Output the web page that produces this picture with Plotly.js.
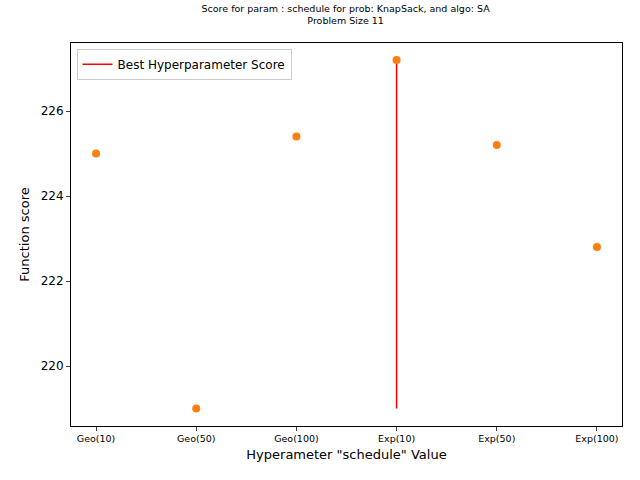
<html>
<head>
<script src="https://cdn.plot.ly/plotly-3.0.1.min.js"></script>
<style>body{margin:0}</style>
</head>
<body>
<div id="chart" style="width:640px;height:480px"></div>
<script>
const categories = ["Geo(10)", "Geo(50)", "Geo(100)", "Exp(10)", "Exp(50)", "Exp(100)"];
const scores = [225.0, 219.0, 225.4, 227.2, 225.2, 222.8];
const bestX = ["Exp(10)", "Exp(10)"];
const bestY = [219.0, 227.2];

const traces = [
    {
        type: "scatter",
        mode: "lines",
        x: bestX,
        y: bestY,
        line: {color: "red", width: 1.5},
        name: "Best Hyperparameter Score",
    },
    {
        type: "scatter",
        mode: "markers",
        x: categories,
        y: scores,
        marker: {color: "#ff7f0e", size: 8},
        showlegend: false,
    },
];

Plotly.newPlot("chart", traces, {
    width: 640,
    height: 480,
    margin: {l: 71, r: 18, t: 43, b: 54},
    font: {family: "DejaVu Sans", color: "black"},
    title: {
        text: "Score for param : schedule for prob: KnapSack, and algo: SA<br>Problem Size 11",
        font: {size: 9.5},
        x: 0.54, y: 0.975, yanchor: "top",
    },
    showlegend: true,
    legend: {x: 0.01, y: 0.985, bordercolor: "#ccc", borderwidth: 1, font: {size: 12}, tracegroupgap: 0},
    xaxis: {
        type: "category",
        categoryorder: "array",
        categoryarray: categories,
        range: [-0.25, 5.25],
        showgrid: false, zeroline: false,
        showline: true, mirror: true, linecolor: "black",
        ticks: "outside", ticklen: 4,
        tickfont: {size: 9.5},
        title: {text: 'Hyperameter "schedule" Value', font: {size: 13}, standoff: 6},
    },
    yaxis: {
        range: [218.59, 227.6],
        tickvals: [220, 222, 224, 226],
        showgrid: false, zeroline: false,
        showline: true, mirror: true, linecolor: "black",
        ticks: "outside", ticklen: 4,
        tickfont: {size: 12},
        title: {text: "Function score", font: {size: 13}, standoff: 8},
    },
    plot_bgcolor: "white",
    paper_bgcolor: "white",
}, {displayModeBar: false});
</script>
</body>
</html>
